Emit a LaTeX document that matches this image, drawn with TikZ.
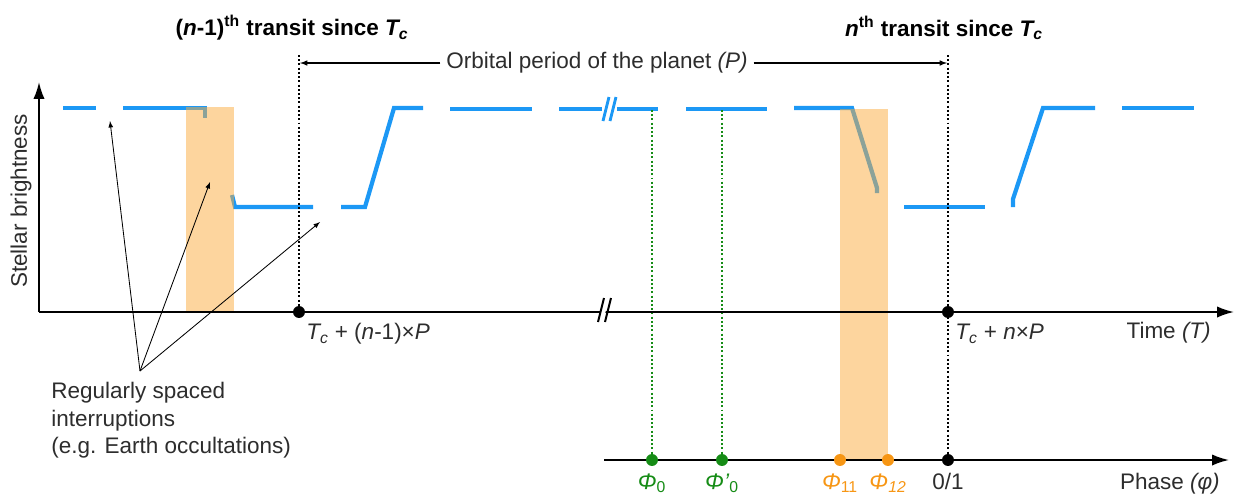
\documentclass[tikz,border=0pt]{standalone}
\usepackage{fontspec}
\setmainfont{Liberation Sans}
\usepackage{xcolor}
\usepackage{tikz}
\usetikzlibrary{calc, positioning, arrows.meta}

\definecolor{curveblue}{RGB}{28,152,245}
\definecolor{bandorange}{RGB}{251,172,62}
\definecolor{phigreen}{RGB}{22,140,22}
\definecolor{phiorange}{RGB}{247,150,20}
\definecolor{txtgray}{RGB}{45,45,45}

\begin{document}
\begin{tikzpicture}[>=latex, x=0.025cm, y=-0.025cm,
    curve/.style={curveblue, line width=3pt},
    band/.style={fill=bandorange, fill opacity=0.5},
    axisline/.style={line width=1.4pt, -{Latex[length=12pt, width=8pt]}},
    dotline/.style={line width=1.8pt, dash pattern=on 1.4pt off 1.6pt},
    dotmark/.style={circle, fill=#1, inner sep=0pt, minimum size=8.5pt},
    lbl/.style={text=txtgray, font=\fontsize{16}{19.5}\selectfont, inner sep=0pt},
    ttl/.style={font=\fontsize{16}{19}\selectfont\bfseries, inner sep=0pt}]
    \useasboundingbox (0,0) rectangle (1236,495);

    % Titres
    \node[ttl] (ttl1) at (292,28) {(\textit{n}-1)\textsuperscript{th} transit since \textit{T\textsubscript{c}}};
    \node[ttl] (ttl2) at (944,28) {\textit{n}\textsuperscript{th} transit since \textit{T\textsubscript{c}}};

    % Courbe de lumiere
    \draw[curve] (63,108) -- (96,108);
    \draw[curve] (123,108) -- (205,108) -- (205,118);
    \draw[curve] (232,195) -- (235,207) -- (313,207);
    \draw[curve] (341,207) -- (365,207) -- (394,108) -- (423,108);
    \draw[curve] (450,109) -- (532,109);
    \draw[curve] (559,109) -- (602,109);
    \draw[curve] (617,109) -- (658,109);
    \draw[curve] (686,109) -- (767,109);
    \draw[curve] (794,108) -- (852,108) -- (877,188) -- (877,193);
    \draw[curve] (904,207) -- (985,207);
    \draw[curve] (1013,207) -- (1013,199) -- (1043,108) -- (1095,108);
    \draw[curve] (1122,108) -- (1194,108);
    \draw[curveblue, line width=2pt] (603,121) -- (609,97) (610,121) -- (616,97);

    % Bandes
    \fill[band] (186,107) rectangle (234,312);
    \fill[band] (840,109) rectangle (888,460);

    % Axes
    \coordinate (o) at (39,312);
    \coordinate (ytop) at (39,82);
    \coordinate (xend) at (1234,312);
    \draw[axisline] (o) -- (ytop);
    \draw[axisline] (o) -- (xend);
    \fill[white] (599,318) -- (605,294) -- (610,294) -- (604,318) -- cycle;
    \draw[line width=1.4pt] (598,322) -- (604,298) (605,322) -- (611,298);
    \node[lbl, rotate=90] (ylab) at (21,201) {Stellar brightness};
    \node[lbl, anchor=east] (xlab) at (1211,333) {Time \textit{(T)}};

    % Transits
    \node[dotmark=black] (t1) at (299,312) {};
    \node[dotmark=black] (t2) at (948,312) {};
    \coordinate (d1) at (299,55);
    \coordinate (d2) at (948,55);
    \node[lbl, anchor=west] (t1lab) at (306,334) {\textit{T\textsubscript{c}} + (\textit{n}-1)×\textit{P}};
    \node[lbl, anchor=west] (t2lab) at (955,334) {\textit{T\textsubscript{c}} + \textit{n}×\textit{P}};

    % Periode
    \node[lbl, fill=white, inner sep=4pt] (per) at (597,63) {Orbital period of the planet \textit{(P)}};
    \coordinate (pa) at (300,63);
    \coordinate (pb) at (947,63);
    \draw[line width=0.8pt, ->] (per) -- (pa);
    \draw[line width=0.8pt, ->] (per) -- (pb);

    % Phase
    \coordinate (p0) at (604,460);
    \coordinate (pend) at (1229,460);
    \draw[line width=1.4pt, -{Latex[length=12pt, width=8pt]}] (p0) -- (pend);
    \node[dotmark=phigreen] (ph0) at (652,460) {};
    \node[dotmark=phigreen] (ph0b) at (722,460) {};
    \node[dotmark=phiorange] (ph11) at (840,460) {};
    \node[dotmark=phiorange] (ph12) at (888,460) {};
    \node[dotmark=black] (ph01) at (948,460) {};
    \node[lbl, phigreen, below=5pt of ph0] {\textit{Φ}\textsubscript{0}};
    \node[lbl, phigreen, below=5pt of ph0b] {\textit{Φ’}\textsubscript{0}};
    \node[lbl, phiorange, below=5pt of ph11] {\textit{Φ}\textsubscript{11}};
    \node[lbl, phiorange, below=5pt of ph12] {\textit{Φ}\textsubscript{\textit{12}}};
    \node[lbl, below=5pt of ph01] {0/1};
    \node[lbl, anchor=east] (phlab) at (1220,484) {Phase \textit{(φ)}};
    \coordinate (g0) at (652,110);
    \coordinate (g1) at (722,110);
    \draw[dotline, phigreen] (g0) -- (ph0);
    \draw[dotline, phigreen] (g1) -- (ph0b);
    \draw[dotline] (d1) -- (t1);
    \draw[dotline] (d2) -- (ph01);

    % Interruptions
    \node[lbl, align=left, anchor=north west] (note) at (51,382) {Regularly spaced\\interruptions\\(e.g. Earth occultations)};
    \coordinate (apex) at (140,371);
    \coordinate (a1) at (110,121);
    \coordinate (a2) at (210,182);
    \coordinate (a3) at (320,222);
    \draw[line width=0.6pt, ->] (apex) -- (a1);
    \draw[line width=0.6pt, ->] (apex) -- (a2);
    \draw[line width=0.6pt, ->] (apex) -- (a3);
\end{tikzpicture}
\end{document}
